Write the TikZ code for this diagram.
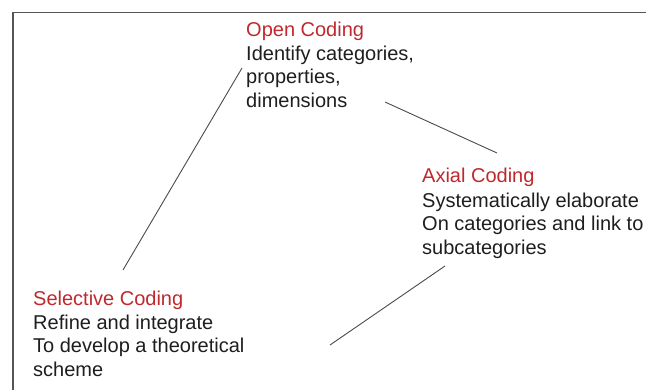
\documentclass[tikz,border=0pt]{standalone}
\usepackage{fontspec}
\setmainfont{Liberation Sans}
\definecolor{headred}{HTML}{C0282E}
\definecolor{bodytext}{HTML}{1E1E1E}
\definecolor{framegray}{HTML}{555555}
\definecolor{linkgray}{HTML}{4A4A4A}
\begin{document}
\begin{tikzpicture}[x=1pt,y=-1pt,
  stage/.style={anchor=north west,inner sep=0pt,align=left,text=bodytext,
    font=\fontsize{20}{23.5}\selectfont},
  head/.style={anchor=base west,inner sep=0pt,text=headred,
    font=\fontsize{20}{23.5}\selectfont},
  link/.style={draw=linkgray,line width=0.9pt},
  frame/.style={draw=framegray,line width=1.6pt}]
\useasboundingbox (0,0) rectangle (646,390);
% frame
\coordinate (fb) at (13,390);
\coordinate (fc) at (13,12.5);
\coordinate (fr) at (646,12.5);
\draw[frame] (fb) -- (fc) -- (fr);
% Open coding
\node[head] (oh) at (246,37) {Open Coding};
\node[stage] (ob) at (246,45.4) {Identify categories,\\properties,\\dimensions};
% Axial coding
\node[head] (ah) at (422,183) {Axial Coding};
\node[stage] (ab) at (422,192.4) {Systematically elaborate\\On categories and link to\\subcategories};
% Selective coding
\node[head] (sh) at (33,306) {Selective Coding};
\node[stage] (sb) at (33,314.4) {Refine and integrate\\To develop a theoretical\\scheme};
% connectors
\coordinate (s1) at (123,270);
\coordinate (o1) at (242,68);
\coordinate (o2) at (385,102);
\coordinate (a1) at (497,153);
\coordinate (a2) at (445,266);
\coordinate (s2) at (330,345);
\draw[link] (s1) -- (o1);
\draw[link] (o2) -- (a1);
\draw[link] (a2) -- (s2);
\end{tikzpicture}
\end{document}
